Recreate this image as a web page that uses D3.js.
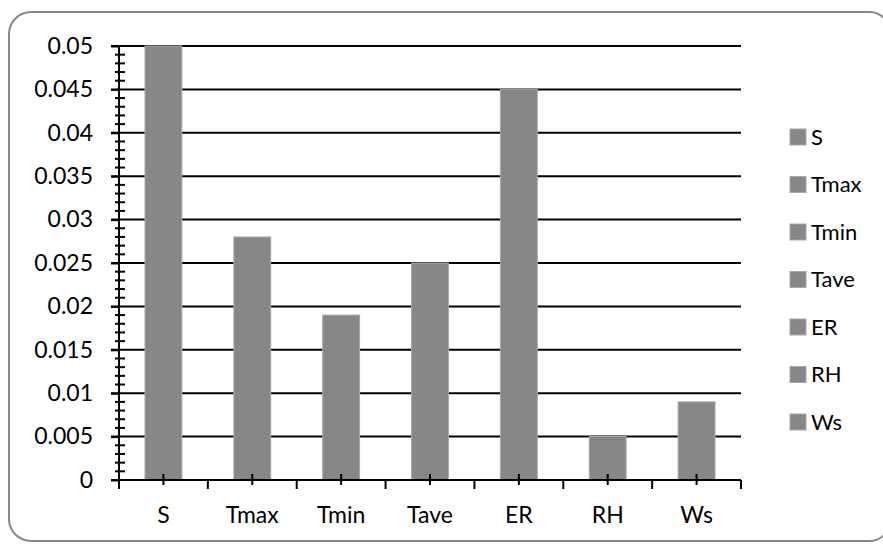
<!DOCTYPE html>
<html>
<head>
<meta charset="utf-8">
<script src="https://cdn.jsdelivr.net/npm/d3@7"></script>
<style>
  html, body { margin: 0; padding: 0; background: #fff; }
  svg { display: block; }
  text { font-family: Lato, "Open Sans", sans-serif; fill: #000; }
</style>
</head>
<body>
<svg id="chart" width="883" height="544"></svg>
<script>
const categories = ["S", "Tmax", "Tmin", "Tave", "ER", "RH", "Ws"];
const values = [0.05, 0.028, 0.019, 0.025, 0.045, 0.005, 0.009];
const yTickLabels = ["0", "0.005", "0.01", "0.015", "0.02", "0.025", "0.03", "0.035", "0.04", "0.045", "0.05"];
const yMajorTicks = [0, 0.005, 0.01, 0.015, 0.02, 0.025, 0.03, 0.035, 0.04, 0.045, 0.05];

const svg = d3.select("#chart");
const barFill = "#878787", barStroke = "#a8a8a8";

// outer frame
svg.append("rect")
  .attr("x", 9).attr("y", 12).attr("width", 882).attr("height", 529)
  .attr("rx", 22).attr("ry", 22)
  .attr("fill", "#fff").attr("stroke", "#888").attr("stroke-width", 2);

const pLeft = 119, pRight = 741, pTop = 46, pBottom = 480;
const x = d3.scaleBand().domain(categories).range([pLeft, pRight])
  .paddingInner(0.585).paddingOuter(0.2925);
const y = d3.scaleLinear().domain([0, 0.05]).range([pBottom, pTop]);

// gridlines
svg.append("g").selectAll("line").data(yMajorTicks.slice(1)).join("line")
  .attr("x1", pLeft - 8).attr("x2", pRight)
  .attr("y1", d => y(d)).attr("y2", d => y(d))
  .attr("stroke", "#000").attr("stroke-width", 2);

// bars
svg.append("g").selectAll("rect").data(categories).join("rect")
  .attr("x", d => x(d)).attr("width", x.bandwidth())
  .attr("y", (d, i) => y(values[i]))
  .attr("height", (d, i) => y(0) - y(values[i]))
  .attr("fill", barFill).attr("stroke", barStroke).attr("stroke-width", 1);

// y axis: major ticks (outside) with labels
const yAxis = d3.axisLeft(y).tickValues(yMajorTicks)
  .tickFormat((d, i) => yTickLabels[i]).tickSize(8).tickPadding(18);
const gy = svg.append("g").attr("transform", `translate(${pLeft},0)`).call(yAxis);
gy.select(".domain").attr("stroke", "#000").attr("stroke-width", 2)
  .attr("d", `M0,${pTop}V${pBottom + 8}`);
gy.selectAll(".tick line").attr("stroke", "#000").attr("stroke-width", 2);
gy.selectAll(".tick text").attr("font-size", 23).style("font-family", "Lato, sans-serif");

// y minor ticks (crossing)
const minor = d3.range(0, 51).map(i => i * 0.001).filter((d, i) => i % 5 !== 0);
svg.append("g").selectAll("line").data(minor).join("line")
  .attr("x1", pLeft - 4).attr("x2", pLeft + 6)
  .attr("y1", d => y(d)).attr("y2", d => y(d))
  .attr("stroke", "#000").attr("stroke-width", 2);

// x axis
const step = x.step();
const boundaries = d3.range(0, categories.length + 1).map(i => pLeft + i * step);
svg.append("line").attr("x1", pLeft - 8).attr("x2", pRight)
  .attr("y1", pBottom).attr("y2", pBottom).attr("stroke", "#000").attr("stroke-width", 2);
svg.append("g").selectAll("line").data(boundaries).join("line")
  .attr("x1", d => d).attr("x2", d => d).attr("y1", pBottom).attr("y2", pBottom + 9)
  .attr("stroke", "#000").attr("stroke-width", 2);
svg.append("g").selectAll("line").data(categories).join("line")
  .attr("x1", d => x(d) + x.bandwidth() / 2).attr("x2", d => x(d) + x.bandwidth() / 2)
  .attr("y1", pBottom - 6).attr("y2", pBottom + 5)
  .attr("stroke", "#000").attr("stroke-width", 2);
svg.append("g").selectAll("text").data(categories).join("text")
  .attr("x", d => x(d) + x.bandwidth() / 2).attr("y", 523)
  .attr("text-anchor", "middle").attr("font-size", 23).text(d => d);

// legend
const lg = svg.append("g");
const legendY = d3.scalePoint().domain(categories).range([137, 422]);
lg.selectAll("rect").data(categories).join("rect")
  .attr("x", 790).attr("y", d => legendY(d) - 8).attr("width", 16).attr("height", 16)
  .attr("fill", barFill).attr("stroke", barStroke).attr("stroke-width", 1);
lg.selectAll("text").data(categories).join("text")
  .attr("x", 811).attr("y", d => legendY(d)).attr("dy", "0.35em")
  .attr("font-size", 22).text(d => d);
</script>
</body>
</html>
